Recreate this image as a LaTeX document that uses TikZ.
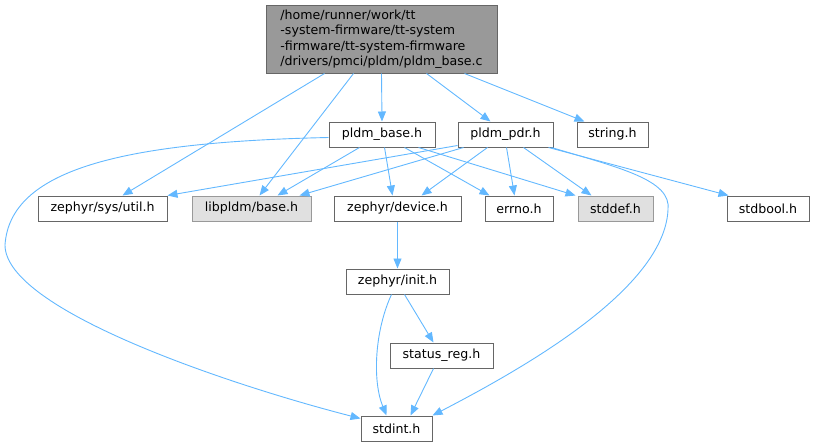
\documentclass[tikz,border=0pt]{standalone}
\usepackage{fontspec}
\setmainfont{DejaVu Sans}
\usetikzlibrary{arrows.meta,calc}
\definecolor{edgeblue}{HTML}{63B8FF}
\definecolor{boxborder}{HTML}{666666}
\definecolor{topfill}{HTML}{999999}
\definecolor{greyfill}{HTML}{E0E0E0}
\definecolor{greyborder}{HTML}{999999}
\tikzset{
  filebox/.style={draw=boxborder, fill=white, line width=1pt, inner sep=0pt, minimum height=25pt,
    font=\fontsize{12.6}{15.5}\selectfont, text=black},
  extbox/.style={filebox, draw=greyborder, fill=greyfill},
  rootbox/.style={filebox, fill=topfill, align=left, minimum height=68pt, minimum width=231pt},
  dep/.style={draw=edgeblue, line width=0.9pt, -{Triangle[length=10pt,width=8pt]}}
}
\begin{document}
\begin{tikzpicture}[x=1pt,y=-1pt]
\useasboundingbox (0,0) rectangle (815,447);
\node[rootbox] (top) at (381.5,39) {/home/runner/work/tt\\-system-firmware/tt-system\\-firmware/tt-system-firmware\\/drivers/pmci/pldm/pldm\_base.c};
\node[filebox, minimum width=106pt] (pbase) at (382,134.5) {pldm\_base.h};
\node[filebox, minimum width=95pt] (ppdr) at (505.5,134.5) {pldm\_pdr.h};
\node[filebox, minimum width=71pt] (string) at (612.5,134.5) {string.h};
\node[filebox, minimum width=129pt] (util) at (102.5,208.5) {zephyr/sys/util.h};
\node[extbox, minimum width=119pt] (libpldm) at (251.5,208.5) {libpldm/base.h};
\node[filebox, minimum width=127pt] (device) at (397.5,208.5) {zephyr/device.h};
\node[filebox, minimum width=68pt] (errno) at (519,208.5) {errno.h};
\node[extbox, minimum width=75pt] (stddef) at (615.5,208.5) {stddef.h};
\node[filebox, minimum width=82pt] (stdbool) at (768,208.5) {stdbool.h};
\node[filebox, minimum width=103pt] (init) at (397.5,281.5) {zephyr/init.h};
\node[filebox, minimum width=103pt] (status) at (441.5,355.5) {status\_reg.h};
\node[filebox, minimum width=71pt] (stdint) at (396.5,428.5) {stdint.h};

% from root
\draw[dep] ([xshift=59pt]top.south west) -- ([xshift=85pt]util.north west);
\draw[dep] ([xshift=88pt]top.south west) -- ([xshift=68pt]libpldm.north west);
\draw[dep] (top.south) -- (pbase.north);
\draw[dep] ([xshift=161pt]top.south west) -- ([xshift=33pt]ppdr.north west);
\draw[dep] ([xshift=199pt]top.south west) -- ([xshift=8pt]string.north west);

% from pldm_base.h
\draw[dep] ([yshift=-3pt]pbase.west) .. controls (120,142) and (10,170) .. (5,245)
  .. controls (5,310) and (230,385) .. ([yshift=10pt]stdint.west);
\draw[dep] ([xshift=31pt]pbase.south west) -- ([xshift=86pt]libpldm.north west);
\draw[dep] ([xshift=56pt]pbase.south west) -- ([xshift=59pt]device.north west);
\draw[dep] ([xshift=76pt]pbase.south west) -- ([xshift=5pt]errno.north west);
\draw[dep] ([xshift=90pt]pbase.south west) -- ([xshift=-2pt]stddef.north west);

% from pldm_pdr.h
\draw[dep] ([yshift=2pt]ppdr.south west) -- (util.north east);
\draw[dep] ([xshift=6pt]ppdr.south west) -- ([xshift=-12pt]libpldm.north east);
\draw[dep] ([xshift=30pt]ppdr.south west) -- ([xshift=88pt]device.north west);
\draw[dep] ([xshift=49pt]ppdr.south west) -- ([xshift=30pt]errno.north west);
\draw[dep] ([xshift=66pt]ppdr.south west) -- ([xshift=14pt]stddef.north west);
\draw[dep] ([xshift=-5pt]ppdr.south east) -- ([xshift=2pt]stdbool.north west);
\draw[dep] ([xshift=-2pt]ppdr.south east) .. controls (620,168) and (672,180) .. (668,210)
  .. controls (664,290) and (520,370) .. (stdint.north east);

% lower part
\draw[dep] (device.south) -- (init.north);
\draw[dep] ([xshift=46pt]init.south west) .. controls (375,330) and (372,380) .. ([xshift=26pt]stdint.north west);
\draw[dep] ([xshift=59pt]init.south west) -- ([xshift=44pt]status.north west);
\draw[dep] ([xshift=44pt]status.south west) -- ([xshift=50pt]stdint.north west);
\end{tikzpicture}
\end{document}
